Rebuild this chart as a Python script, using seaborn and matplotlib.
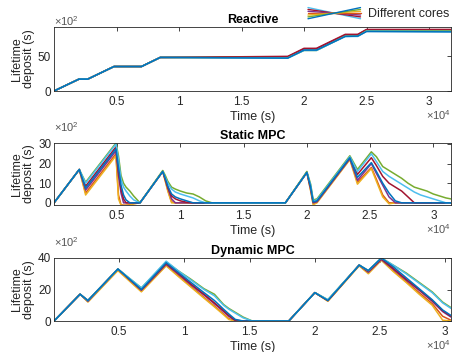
import numpy as np
import pandas as pd
import matplotlib
matplotlib.use("Agg")
import matplotlib.pyplot as plt
import seaborn as sns
from matplotlib.lines import Line2D
from matplotlib.legend_handler import HandlerBase

# ---------------- data (values in units of 1e2 s) ----------------
core_names = ["orange", "yellow", "purple", "red", "green", "cyan", "blue"]
core_colors = ["#D95319", "#EDB120", "#7E2F8E", "#A2142F", "#77AC30", "#4DBEEE", "#0072BD"]

# Reactive
t_react = [0, 2000, 2700, 4800, 7000, 8500, 18700, 20000, 21000, 23300, 24300, 25000, 31760]
react_orange = [0, 17, 17, 35, 35, 48, 48.0, 59.0, 59.0, 79.0, 79.0, 86.0, 85.5]
react_yellow = [0, 17, 17, 35, 35, 48, 48.5, 59.5, 59.5, 79.5, 80.0, 87.0, 86.5]
react_purple = [0, 17, 17, 35, 35, 48, 49.0, 60.0, 60.5, 80.0, 80.5, 87.5, 87.5]
react_red = [0, 17, 17, 35, 35, 48, 49.5, 61.0, 61.0, 81.0, 81.0, 88.0, 88.0]
react_green = [0, 17, 17, 35, 35, 48, 47.5, 58.0, 58.0, 78.5, 78.5, 86.0, 86.0]
react_cyan = [0, 17, 17, 35, 35, 48, 47.0, 58.0, 58.0, 78.0, 78.0, 85.5, 85.0]
react_blue = [0, 17, 17, 35, 35, 48, 47.0, 58.5, 58.5, 78.0, 78.5, 85.0, 84.5]

# Static MPC
t_static = [0, 2000, 2500, 4900, 5100, 5300, 5500, 5700, 6000, 6300, 6800,
            8600, 8800, 9000, 9300, 9600, 10000, 10500, 11000, 11500, 12000, 12500,
            18300, 20000, 20300, 20500, 20800, 23400, 24000, 25100, 25500, 26000,
            26500, 27000, 27500, 28000, 28500, 29000, 29500, 30000, 30500, 31000, 31400]
static_yellow = [0, 17, 4.0, 24.0, 2.0, -1.2, -1.3, -1.3, -1.2, -0.5, 0,
                 16, 11, 6, 0, 0, 0, 0, 0, 0, 0, 0,
                 0, 15.5, 6, -1, 0, 22, 9.5, 17.5, 11, 3, -0.5, 0, 0, 0, 0, 0, 0, 0, 0, 0, 0]
static_orange = [0, 17, 5.0, 25.0, 4.0, -1.0, -1.2, -1.2, -1.0, -0.4, 0,
                 16, 11.5, 6.5, 0.5, 0, 0, 0, 0, 0, 0, 0,
                 0, 15.5, 6.5, -0.5, 0.5, 22.5, 10.5, 18, 12, 4, 0, 0, 0, 0, 0, 0, 0, 0, 0, 0, 0]
static_purple = [0, 17, 6.5, 26.5, 14, 5, 0, 0, 0, 0, 0,
                 16, 12, 7.5, 2, 0, 0, 0, 0, 0, 0, 0,
                 0, 15.5, 7, 0, 0.5, 22.5, 11.5, 20, 15, 9, 3, 0, 0, 0, 0, 0, 0, 0, 0, 0, 0]
static_red = [0, 17, 8.5, 28.5, 16, 7, 2, 0, 0, 0, 0,
              16, 12, 8, 3.5, 2, 1, 0.3, 0, 0, 0, 0,
              0, 15.5, 8, 0.5, 1, 23, 14.5, 23, 19, 13.5, 10, 8, 6, 3, 0, 0, 0, 0, 0, 0, 0]
static_green = [0, 17, 10.5, 30.5, 24, 14, 10, 8, 6, 3.5, 0,
                16.5, 14, 11, 8, 7, 6, 5, 4.5, 3, 1, 0,
                0, 16, 9.5, 1.5, 2, 24, 17, 26, 23.5, 18.5, 16.5, 14.5, 12.5, 10, 8, 7, 6, 4.5, 3.5, 2.5, 2]
static_cyan = [0, 17, 10, 30, 22, 12, 8, 6, 3.5, 1.5, 0,
               16, 13, 10, 7, 5.5, 4.5, 3.5, 2.5, 1, 0, 0,
               0, 15.5, 9, 1, 1.5, 23.5, 16, 25, 21, 16, 13.5, 11.5, 9.5, 7.5, 5.5, 4, 3, 2, 1, 0, 0]
static_blue = [0, 17, 7.5, 27.5, 18, 9, 4, 1.5, 0, 0, 0,
               16, 12.5, 8.5, 4.5, 3, 2, 1, 0, 0, 0, 0,
               0, 15.5, 8, 0.5, 1, 23, 13, 20.5, 16, 10, 5, 1, 0, 0, 0, 0, 0, 0, 0, 0, 0]

# Dynamic MPC
t_dyn = [0, 2000, 2600, 4900, 6700, 8600, 9500, 10500, 11500, 12300, 13000, 13400, 13900,
         14500, 15200, 18000, 20000, 21000, 23400, 24100, 25100, 26000, 27000, 28000,
         29000, 29800, 30440]
dyn_yellow = [0, 17, 12, 32, 18.5, 35, 28.5, 21.5, 14.5, 9, 4, 1, 0,
              0, 0, 0, 18, 12.5, 35, 30, 38.5, 31.5, 24.5, 17, 10, 0.5, 0]
dyn_orange = [0, 17, 12.5, 32.5, 19, 35.5, 29, 22, 15, 9.5, 4.5, 1.5, 0,
              0, 0, 0, 18, 13, 35.5, 30.5, 39, 32, 25, 18, 11, 3, 0.5]
dyn_purple = [0, 17, 12.5, 33, 19.5, 36, 30, 23, 16.5, 11, 6, 3, 0.3,
              0, 0, 0, 18, 13, 35.5, 31, 39, 33, 26, 19.5, 12.5, 6, 2.5]
dyn_red = [0, 17, 13, 33, 20, 36.5, 30.5, 23.5, 17, 11.5, 6.5, 3.5, 0.5,
           0, 0, 0, 18, 13, 35.5, 31.5, 39.5, 33.5, 26.5, 20, 13, 6.5, 3]
dyn_green = [0, 17, 13, 33, 21, 37.5, 32, 26.5, 20.5, 17, 10.5, 8, 5.5,
             2.5, 0, 0, 18, 13.5, 35.5, 32, 40, 35.5, 30.5, 24.5, 18.5, 12, 8.5]
dyn_cyan = [0, 17, 13, 33, 21, 38, 32, 26, 20, 16, 10, 7.5, 5,
            2, 0, 0, 18, 13.5, 35.5, 32, 40, 35.5, 30, 24, 18, 11.5, 8]
dyn_blue = [0, 17, 13, 33, 20, 37, 31, 24.5, 18, 13, 7.5, 4.5, 1,
            0, 0, 0, 18, 13, 35.5, 32, 40, 34.5, 27.5, 20.5, 13.5, 7, 3.5]

x_ticks = [5000, 10000, 15000, 20000, 25000, 30000]
x_ticklabels = ["0.5", "1", "1.5", "2", "2.5", "3"]


def to_long(t, series):
    frames = []
    for name, vals in series.items():
        frames.append(pd.DataFrame({"t": t, "v": vals, "core": name}))
    return pd.concat(frames, ignore_index=True)


df_react = to_long(t_react, dict(zip(core_names, [react_orange, react_yellow, react_purple, react_red,
                                                   react_green, react_cyan, react_blue])))
df_static = to_long(t_static, dict(zip(core_names, [static_orange, static_yellow, static_purple, static_red,
                                                     static_green, static_cyan, static_blue])))
df_dyn = to_long(t_dyn, dict(zip(core_names, [dyn_orange, dyn_yellow, dyn_purple, dyn_red,
                                               dyn_green, dyn_cyan, dyn_blue])))

# ---------------- style ----------------
sns.set_style("white")
plt.rcParams["font.family"] = ["Liberation Sans", "DejaVu Sans"]
plt.rcParams["mathtext.fontset"] = "custom"
plt.rcParams["mathtext.rm"] = "Liberation Sans"
plt.rcParams["mathtext.it"] = "Liberation Sans"
edge = "#262626"
palette = dict(zip(core_names, core_colors))

fig = plt.figure(figsize=(4.61, 3.52), dpi=100)
W, H = 461, 352
boxes = [(54, 27, 451, 91), (54, 143, 451, 205), (54, 258, 451, 321)]
axes = [fig.add_axes([l / W, 1 - b / H, (r - l) / W, (b - t) / H]) for (l, t, r, b) in boxes]

panels = [
    (df_react, "Reactive", (0, 31760), (0, 91.5), [0, 50], 4.5),
    (df_static, "Static MPC", (0, 31400), (-1.1, 30.5), [0, 10, 20, 30], 11.5),
    (df_dyn, "Dynamic MPC", (0, 30440), (0, 40), [0, 20, 40], 11.5),
]

for ax, (df, title, xl, yl, yt, exp_off) in zip(axes, panels):
    sns.lineplot(data=df, x="t", y="v", hue="core", hue_order=core_names, palette=palette,
                 ax=ax, linewidth=1.1, legend=False, estimator=None, sort=False)
    ax.set_xlim(*xl)
    ax.set_ylim(*yl)
    ax.set_xticks(x_ticks)
    ax.set_xticklabels(x_ticklabels)
    ax.set_yticks(yt)
    ax.tick_params(direction="in", top=True, right=True, length=3, width=0.6,
                   labelsize=8.5, colors=edge)
    ax.tick_params(axis="x", pad=3.5)
    ax.tick_params(axis="y", pad=2)
    for s in ax.spines.values():
        s.set_color(edge)
        s.set_linewidth(0.6)
    ax.set_title(title, fontsize=9, fontweight="bold", color="black", pad=3)
    ax.set_xlabel("Time (s)", fontsize=9, color=edge, labelpad=2.5)
    ax.set_ylabel("Lifetime\ndeposit (s)", fontsize=9, color=edge, labelpad=2, linespacing=1.0)
    ax.annotate(r"$\times10^{2}$", xy=(0, 1), xycoords="axes fraction", xytext=(0, exp_off),
                textcoords="offset points", ha="left", va="center", fontsize=8, color="#555555")
    ax.annotate(r"$\times10^{4}$", xy=(1, 0), xycoords="axes fraction", xytext=(0, -17.5),
                textcoords="offset points", ha="right", va="center", fontsize=8, color="#555555")


class BowtieHandler(HandlerBase):
    def create_artists(self, legend, orig_handle, xdescent, ydescent, width, height, fontsize, trans):
        arts = []
        order = ["#4DBEEE", "#A2142F", "#7E2F8E", "#D95319", "#EDB120", "#77AC30", "#0072BD"]
        n = len(order)
        for i, c in enumerate(order):
            f = i / (n - 1)
            y0 = -ydescent + height * (1 - f)
            y1 = -ydescent + height * f
            ln = Line2D([-xdescent, -xdescent + width], [y0, y1], color=c, lw=1.0, transform=trans)
            arts.append(ln)
        return arts


dummy = Line2D([], [])
fig.legend(handles=[dummy], labels=["Different cores"], handler_map={Line2D: BowtieHandler()},
           loc="center left", bbox_to_anchor=(308 / W, 1 - 14 / H), frameon=False,
           handlelength=4.2, handleheight=1.0, fontsize=9, borderpad=0, handletextpad=0.6,
           borderaxespad=0)

fig.savefig("out.png", dpi=100)
